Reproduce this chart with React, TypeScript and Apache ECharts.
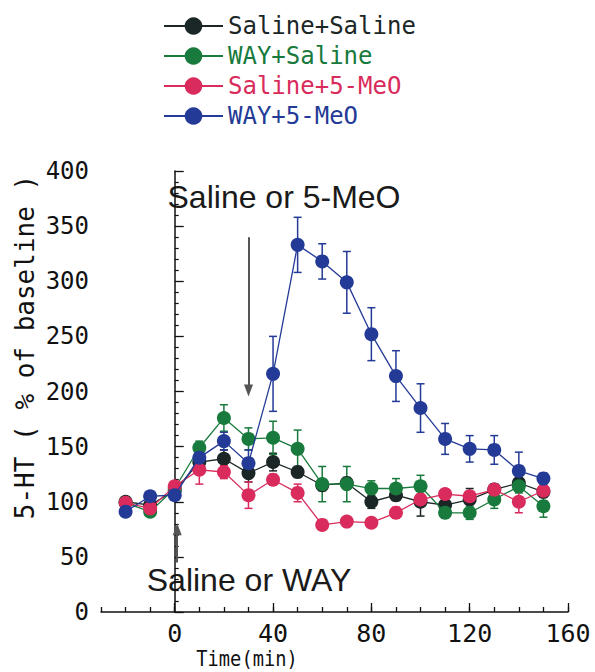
import React, { useEffect, useRef } from "react";
import * as echarts from "echarts";

const times = [-20, -10, 0, 10, 20, 30, 40, 50, 60, 70, 80, 90, 100, 110, 120, 130, 140, 150];

const salineSaline = [100, 97, 110, 136, 139, 126, 136, 127, 115, 117, 100, 106, 100, 97, 102, 111, 117, 109];
const salineSalineErr = [4, 4, 4, 6, 8, 8, 8, 5, 5, 5, 6, 5, 13, 5, 10, 5, 5, 5];

const waySaline = [99, 91, 112, 149, 176, 157, 158, 148, 116, 116, 112, 112, 114, 90, 90, 102, 114, 96];
const waySalineErr = [4, 4, 4, 6, 12, 10, 15, 17, 16, 16, 7, 9, 10, 5, 6, 8, 6, 10];

const salineMeo = [99, 94, 114, 129, 127, 106, 120, 108, 79, 82, 81, 90, 102, 107, 105, 111, 100, 110];
const salineMeoErr = [4, 4, 4, 13, 6, 12, 5, 8, 4, 4, 4, 5, 5, 4, 4, 4, 10, 4];

const wayMeo = [91, 105, 106, 140, 155, 135, 216, 333, 318, 299, 252, 214, 185, 157, 148, 147, 128, 121];
const wayMeoErr = [4, 4, 4, 6, 8, 12, 34, 25, 16, 28, 24, 23, 22, 14, 12, 13, 17, 5];

const seriesNames = ["Saline+Saline", "WAY+Saline", "Saline+5-MeO", "WAY+5-MeO"];
const colors = ["#1b2626", "#187a3c", "#d92b5c", "#233a96"];

const yTickValues = [0, 50, 100, 150, 200, 250, 300, 350, 400];
const xLabelValues = [0, 40, 80, 120, 160];

export default function App() {
  const ref = useRef<HTMLDivElement>(null);
  useEffect(() => {
    document.body.style.margin = "0";
    const chart = echarts.init(ref.current!, null, { renderer: "svg" });
    const all = [
      { v: salineSaline, e: salineSalineErr },
      { v: waySaline, e: waySalineErr },
      { v: salineMeo, e: salineMeoErr },
      { v: wayMeo, e: wayMeoErr },
    ];
    const lineSeries: any[] = all.map((g, i) => ({
      name: seriesNames[i],
      type: "line",
      xAxisIndex: 0,
      data: times.map((t, k) => [t, g.v[k]]),
      symbol: "circle",
      symbolSize: 14,
      z: 5 + i,
      itemStyle: { color: colors[i] },
      lineStyle: { color: colors[i], width: 1.3 },
    }));
    const errSeries: any[] = all.map((g, i) => ({
      name: "err" + i,
      type: "custom",
      xAxisIndex: 0,
      z: 3,
      silent: true,
      data: times.map((t, k) => [t, g.v[k] - g.e[k], g.v[k] + g.e[k]]),
      renderItem: (params: any, api: any) => {
        const x = api.value(0);
        const lo = api.coord([x, api.value(1)]);
        const hi = api.coord([x, api.value(2)]);
        const w = 4;
        const style = { stroke: colors[i], lineWidth: 1.5 };
        return {
          type: "group",
          children: [
            { type: "line", shape: { x1: lo[0], y1: lo[1], x2: hi[0], y2: hi[1] }, style },
            { type: "line", shape: { x1: lo[0] - w, y1: lo[1], x2: lo[0] + w, y2: lo[1] }, style },
            { type: "line", shape: { x1: hi[0] - w, y1: hi[1], x2: hi[0] + w, y2: hi[1] }, style },
          ],
        };
      },
    }));
    const arrowSeries = {
      name: "arrows",
      type: "line",
      xAxisIndex: 0,
      data: [],
      silent: true,
      markLine: {
        silent: true,
        symbol: ["none", "triangle"],
        symbolSize: [9, 12],
        label: { show: false },
        lineStyle: { color: "#555555", width: 2, type: "solid" },
        data: [
          [{ coord: [30, 340] }, { coord: [30, 201] }],
          [{ coord: [1, 45] }, { coord: [1, 75] }],
        ],
      },
    };
    chart.setOption({
      animation: false,
      grid: { left: 101, top: 171, right: 27, bottom: 60 },
      legend: {
        orient: "vertical",
        left: 158,
        top: 9,
        itemWidth: 59,
        itemHeight: 22,
        itemGap: 6,
        textStyle: { fontFamily: "DejaVu Sans Mono", fontSize: 24, lineHeight: 24 },
        data: seriesNames.map((n, i) => ({ name: n, textStyle: { color: colors[i] } })),
      },
      xAxis: [
        {
          type: "value",
          min: -30,
          max: 160,
          interval: 10,
          axisLine: { lineStyle: { color: "#111", width: 1.5 } },
          axisTick: { inside: true, length: 5, lineStyle: { color: "#111", width: 1.3 } },
          splitLine: { show: false },
          axisLabel: {
            color: "#111",
            fontFamily: "DejaVu Sans Mono",
            fontSize: 25,
            margin: 9,
            formatter: (v: number) => (xLabelValues.includes(v) ? String(v) : ""),
          },
        },
        {
          type: "value",
          min: -30,
          max: 160,
          position: "bottom",
          axisLine: { show: false },
          axisTick: { inside: true, length: 9, customValues: xLabelValues, lineStyle: { color: "#111", width: 1.3 } },
          axisLabel: { show: false },
          splitLine: { show: false },
        },
      ],
      yAxis: {
        type: "value",
        min: 0,
        max: 400,
        interval: 50,
        axisLine: { show: true, lineStyle: { color: "#111", width: 1.5 } },
        axisTick: { show: true, inside: true, length: 9, lineStyle: { color: "#111", width: 1.3 } },
        minorTick: { show: true, splitNumber: 5, length: 4, lineStyle: { color: "#111", width: 1.2 } },
        splitLine: { show: false },
        axisLabel: {
          color: "#111",
          fontFamily: "DejaVu Sans Mono",
          fontSize: 24,
          margin: 12,
          formatter: (v: number) => (yTickValues.includes(v) ? String(v) : ""),
        },
      },
      graphic: [
        {
          type: "text",
          x: 25,
          y: 347,
          rotation: Math.PI / 2,
          style: {
            text: "5-HT ( % of baseline )",
            fontFamily: "DejaVu Sans Mono",
            fontSize: 26,
            fill: "#111",
            align: "center",
            verticalAlign: "middle",
          },
        },
        {
          type: "text",
          x: 247,
          y: 658,
          scaleX: 0.85,
          style: {
            text: "Time(min)",
            fontFamily: "DejaVu Sans Mono",
            fontSize: 22,
            fill: "#111",
            align: "center",
            verticalAlign: "middle",
          },
        },
        {
          type: "text",
          x: 284,
          y: 197,
          style: {
            text: "Saline or 5-MeO",
            fontFamily: "Liberation Sans",
            fontSize: 32,
            fill: "#1a1a1a",
            align: "center",
            verticalAlign: "middle",
          },
        },
        {
          type: "text",
          x: 249,
          y: 580,
          style: {
            text: "Saline or WAY",
            fontFamily: "Liberation Sans",
            fontSize: 32,
            fill: "#1a1a1a",
            align: "center",
            verticalAlign: "middle",
          },
        },
      ],
      series: [...errSeries, ...lineSeries, arrowSeries],
    });
    return () => chart.dispose();
  }, []);
  return <div ref={ref} style={{ position: "absolute", left: 0, top: 0, width: 595, height: 672 }} />;
}
